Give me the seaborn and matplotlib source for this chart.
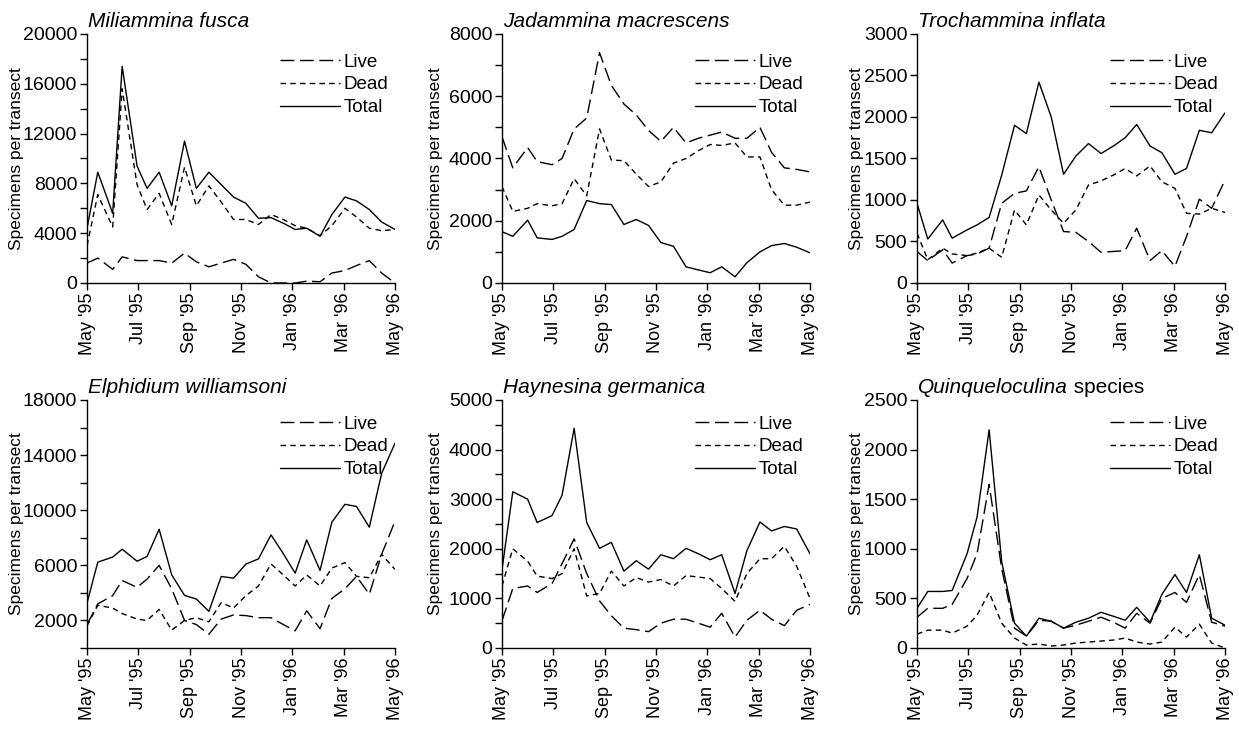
import numpy as np
import pandas as pd
import matplotlib
matplotlib.use("Agg")
import matplotlib.pyplot as plt
import seaborn as sns

# ---------------- data ----------------
# sampling times, in months after May 1995
months = [0, 0.42, 1.0, 1.37, 1.95, 2.34, 2.81, 3.3, 3.8, 4.26, 4.75, 5.23, 5.71,
          6.19, 6.68, 7.17, 7.65, 8.11, 8.56, 9.08, 9.54, 10.05, 10.5, 11.0, 11.48, 12.0]
tick_months = [0, 2, 4, 6, 8, 10, 12]
tick_labels = ["May '95", "Jul '95", "Sep '95", "Nov '95", "Jan '96", "Mar '96", "May '96"]
series_names = ["Live", "Dead", "Total"]

fusca_live = [1600, 2000, 1100, 2100, 1800, 1800, 1800, 1600, 2400, 1700, 1300, 1600, 1900,
              1500, 500, 0, 0, 0, 150, 100, 800, 1000, 1400, 1800, 800, 0]
fusca_dead = [3000, 7100, 4500, 15600, 7900, 5900, 7200, 4700, 9300, 6200, 7800, 6500, 5100,
              5100, 4700, 5500, 5100, 4600, 4400, 3800, 4600, 6000, 5300, 4400, 4200, 4300]
fusca_total = [4400, 8900, 5600, 17400, 9400, 7600, 8900, 6200, 11400, 7600, 8900, 7900, 6900,
               6400, 5200, 5250, 4800, 4300, 4400, 3750, 5500, 6900, 6600, 5900, 4900, 4300]

macrescens_live = [4700, 3700, 4350, 3900, 3800, 4000, 4950, 5300, 7400, 6350, 5750, 5400, 4900,
                   4550, 5000, 4500, 4650, 4750, 4850, 4650, 4650, 5000, 4200, 3700, 3650, 3570]
macrescens_dead = [3100, 2300, 2400, 2550, 2480, 2550, 3350, 2800, 4950, 3950, 3930, 3500, 3100,
                   3250, 3850, 4000, 4250, 4450, 4420, 4500, 4050, 4050, 3000, 2500, 2500, 2600]
macrescens_total = [1650, 1500, 2020, 1450, 1400, 1500, 1720, 2650, 2550, 2520, 1880, 2040, 1850,
                    1300, 1180, 520, 420, 330, 520, 200, 650, 1000, 1200, 1270, 1150, 970]

inflata_live = [380, 270, 400, 240, 330, 350, 420, 960, 1080, 1110, 1400, 1000, 620,
                610, 500, 370, 380, 390, 660, 270, 390, 200, 560, 1010, 900, 1240]
inflata_dead = [600, 280, 420, 350, 330, 360, 420, 310, 880, 700, 1060, 880, 720,
                880, 1180, 1230, 1300, 1380, 1290, 1410, 1220, 1140, 840, 830, 900, 850]
inflata_total = [960, 530, 760, 540, 640, 700, 790, 1300, 1900, 1800, 2420, 2000, 1310,
                 1530, 1680, 1560, 1650, 1750, 1910, 1650, 1570, 1310, 1380, 1840, 1810, 2050]

williamsoni_live = [1700, 3200, 3800, 4900, 4400, 5000, 6000, 4300, 2000, 1700, 1000, 2100, 2400,
                    2350, 2200, 2200, 1700, 1250, 2700, 1400, 3600, 4300, 5200, 3900, 6800, 9200]
williamsoni_dead = [1600, 3100, 2900, 2500, 2100, 2000, 2800, 1300, 2000, 2200, 1900, 3300, 2900,
                    3800, 4500, 6100, 5300, 4500, 5300, 4500, 5800, 6200, 5200, 5100, 6800, 5700]
williamsoni_total = [3260, 6230, 6600, 7170, 6300, 6640, 8620, 5310, 3820, 3550, 2660, 5190, 5070,
                     6090, 6470, 8210, 6840, 5430, 7850, 5630, 9130, 10430, 10270, 8770, 12680, 14860]

germanica_live = [550, 1200, 1250, 1120, 1300, 1700, 2200, 1500, 950, 650, 400, 370, 330,
                  500, 580, 580, 500, 420, 700, 220, 560, 760, 580, 450, 760, 880]
germanica_dead = [1250, 2000, 1750, 1450, 1400, 1500, 2000, 1050, 1100, 1550, 1250, 1420, 1330,
                  1380, 1250, 1460, 1430, 1400, 1200, 940, 1500, 1800, 1800, 2050, 1650, 1000]
germanica_total = [1580, 3150, 3000, 2530, 2670, 3080, 4430, 2530, 2010, 2130, 1550, 1760, 1590,
                   1880, 1800, 2010, 1900, 1780, 1880, 1100, 1960, 2540, 2360, 2450, 2400, 1900]

quinq_live = [310, 400, 400, 440, 700, 950, 1650, 800, 200, 120, 280, 270, 200,
              230, 270, 310, 260, 200, 350, 250, 500, 560, 460, 740, 260, 220]
quinq_dead = [140, 180, 180, 150, 220, 330, 560, 250, 100, 30, 40, 20, 30,
              50, 60, 70, 80, 100, 60, 40, 60, 210, 110, 240, 50, 0]
quinq_total = [400, 570, 570, 580, 950, 1320, 2200, 870, 250, 120, 300, 270, 200,
               260, 300, 360, 320, 280, 410, 260, 540, 740, 560, 940, 300, 230]

titles_italic = ["Miliammina fusca", "Jadammina macrescens", "Trochammina inflata",
                 "Elphidium williamsoni", "Haynesina germanica", "Quinqueloculina"]
titles_plain = ["", "", "", "", "", " species"]

panel_data = [
    (fusca_live, fusca_dead, fusca_total),
    (macrescens_live, macrescens_dead, macrescens_total),
    (inflata_live, inflata_dead, inflata_total),
    (williamsoni_live, williamsoni_dead, williamsoni_total),
    (germanica_live, germanica_dead, germanica_total),
    (quinq_live, quinq_dead, quinq_total),
]
# y axis: (max, labelled ticks, unlabelled ticks)
y_axes = [
    (20000, [0, 4000, 8000, 12000, 16000, 20000], [2000, 6000, 10000, 14000, 18000]),
    (8000, [0, 2000, 4000, 6000, 8000], [1000, 3000, 5000, 7000]),
    (3000, [0, 500, 1000, 1500, 2000, 2500, 3000], []),
    (18000, [2000, 6000, 10000, 14000, 18000], [0, 4000, 8000, 12000, 16000]),
    (5000, [0, 1000, 2000, 3000, 4000, 5000], [500, 1500, 2500, 3500, 4500]),
    (2500, [0, 500, 1000, 1500, 2000, 2500], []),
]

# ---------------- style ----------------
sns.set_style("ticks")
narrow = ["Liberation Sans Narrow", "Liberation Sans", "DejaVu Sans"]
regular = ["Liberation Sans", "DejaVu Sans"]
plt.rcParams["font.family"] = narrow
plt.rcParams["lines.linewidth"] = 1.0
plt.rcParams["axes.edgecolor"] = "black"
plt.rcParams["xtick.color"] = "black"
plt.rcParams["ytick.color"] = "black"
plt.rcParams["text.color"] = "black"
plt.rcParams["axes.labelcolor"] = "black"

W, H = 1239, 733
fig = plt.figure(figsize=(W / 100, H / 100), dpi=100)
fig.patch.set_facecolor("white")

lefts = [87, 502, 917]
rows = [(34, 283), (400, 648)]
legend_y = [0.922, 0.938]
ylabel_x = [-0.205, -0.19, -0.172]
axw = 308

dash_map = {"Live": (10, 4), "Dead": (4, 3), "Total": ""}

for i in range(6):
    r, c = divmod(i, 3)
    top, bot = rows[r]
    ax = fig.add_axes([lefts[c] / W, 1 - bot / H, axw / W, (bot - top) / H])
    live, dead, total = panel_data[i]
    df = pd.DataFrame({
        "month": months * 3,
        "value": live + dead + total,
        "Series": ["Live"] * len(live) + ["Dead"] * len(dead) + ["Total"] * len(total),
    })
    sns.lineplot(data=df, x="month", y="value", style="Series", style_order=series_names,
                 dashes=dash_map, color="black", linewidth=1.0, ax=ax, legend="full")
    handles, labels = ax.get_legend_handles_labels()
    hl = [(h, l) for h, l in zip(handles, labels) if l in series_names]
    for h, _ in hl:
        h.set_color("black")
        h.set_linewidth(1.0)
    ax.legend([h for h, _ in hl], [l for _, l in hl], loc="upper left",
              bbox_to_anchor=(0.625, legend_y[r]), frameon=False, fontsize=13.5,
              handlelength=3.2, handletextpad=0.2, labelspacing=0.31,
              borderaxespad=0, borderpad=0)

    ymax, yticks, yminor = y_axes[i]
    ax.set_xlim(0, 12)
    ax.set_ylim(0, ymax)
    ax.set_xticks(tick_months)
    ax.set_xticklabels(tick_labels, rotation=90, fontsize=13)
    ax.set_yticks(yticks)
    ax.set_yticklabels([str(t) for t in yticks], fontsize=14)
    ax.set_yticks(yminor, minor=True)
    ax.tick_params(axis="both", which="both", direction="out", length=5, width=1, pad=2)
    ax.set_xlabel("")
    ax.set_ylabel("Specimens per transect", fontsize=12.5)
    ax.yaxis.set_label_coords(ylabel_x[c], 0.5)
    sns.despine(ax=ax)
    for s in ["left", "bottom"]:
        ax.spines[s].set_linewidth(1.0)
    ax.set_facecolor("white")

    t1 = ax.text(0.004, 1 + 7 / (bot - top), titles_italic[i], transform=ax.transAxes,
                 fontsize=15, fontstyle="italic", family=regular, va="baseline", ha="left")
    if titles_plain[i]:
        ax.annotate(titles_plain[i], xy=(1, 0), xycoords=t1, va="bottom", ha="left",
                    fontsize=15, family=regular)

fig.savefig("out.png", dpi=100, facecolor="white")
